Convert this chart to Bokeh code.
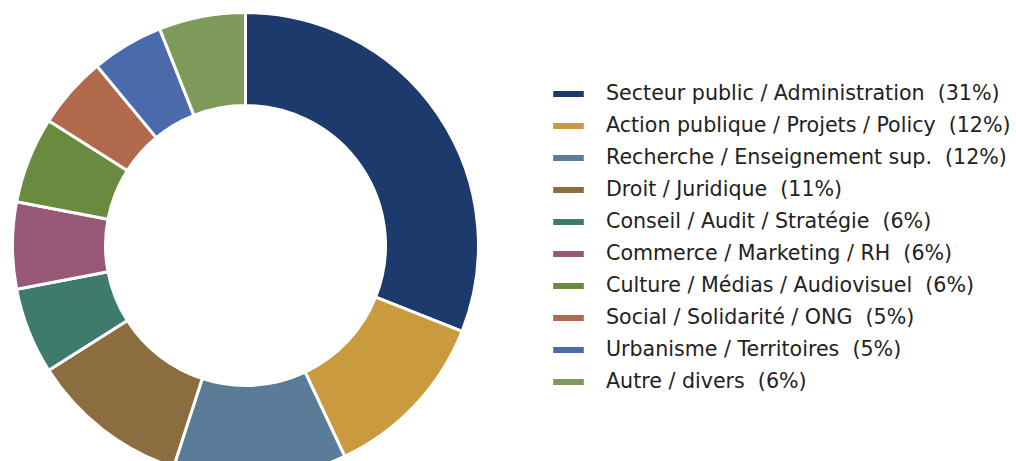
import numpy as np
from bokeh.plotting import figure
from bokeh.models import ColumnDataSource, Legend, LegendItem, Range1d
from bokeh.embed import file_html
from bokeh.resources import INLINE

categories = [
    "Secteur public / Administration",
    "Action publique / Projets / Policy",
    "Recherche / Enseignement sup.",
    "Droit / Juridique",
    "Conseil / Audit / Stratégie",
    "Commerce / Marketing / RH",
    "Culture / Médias / Audiovisuel",
    "Social / Solidarité / ONG",
    "Urbanisme / Territoires",
    "Autre / divers",
]
percents = [31, 12, 12, 11, 6, 6, 6, 5, 5, 6]
colors = ["#1d3a6c", "#c99b3e", "#5a7c98", "#8b6d3f", "#3e7b6c",
          "#985878", "#6a8b3f", "#b0694a", "#4a6aab", "#7d9a5b"]

vals = np.array(percents, dtype=float)
frac = vals / vals.sum()
cum = np.concatenate([[0.0], np.cumsum(frac)])
start = np.pi / 2 - cum[:-1] * 2 * np.pi
end = np.pi / 2 - cum[1:] * 2 * np.pi
labels = [f"{c}  ({p}%)" for c, p in zip(categories, percents)]

src = ColumnDataSource(dict(start=start, end=end, color=colors, label=labels))

W, H = 1016, 461
cx, cy = 245, 245  # donut center in frame px from top-left
p = figure(width=W, height=H, output_backend="svg", toolbar_location=None,
           x_range=Range1d(-cx, W - cx), y_range=Range1d(-(H - cy), cy),
           min_border=0)
p.axis.visible = False
p.grid.visible = False
p.outline_line_color = None

r = p.annular_wedge(x=0, y=0, inner_radius=140, outer_radius=233,
                    start_angle="start", end_angle="end", direction="clock",
                    fill_color="color", line_color="white", line_width=3,
                    source=src)

items = [LegendItem(label=labels[i], renderers=[r], index=i) for i in range(len(labels))]
legend = Legend(items=items, location=(547, 64), padding=0, margin=0,
                border_line_color=None, background_fill_alpha=0,
                label_text_font="DejaVu Sans", label_text_font_size="20.6px",
                label_text_color="#222222",
                glyph_width=42, glyph_height=11, label_height=32, spacing=0,
                label_standoff=17)
p.add_layout(legend)

open("out.html", "w").write(file_html(p, INLINE))
